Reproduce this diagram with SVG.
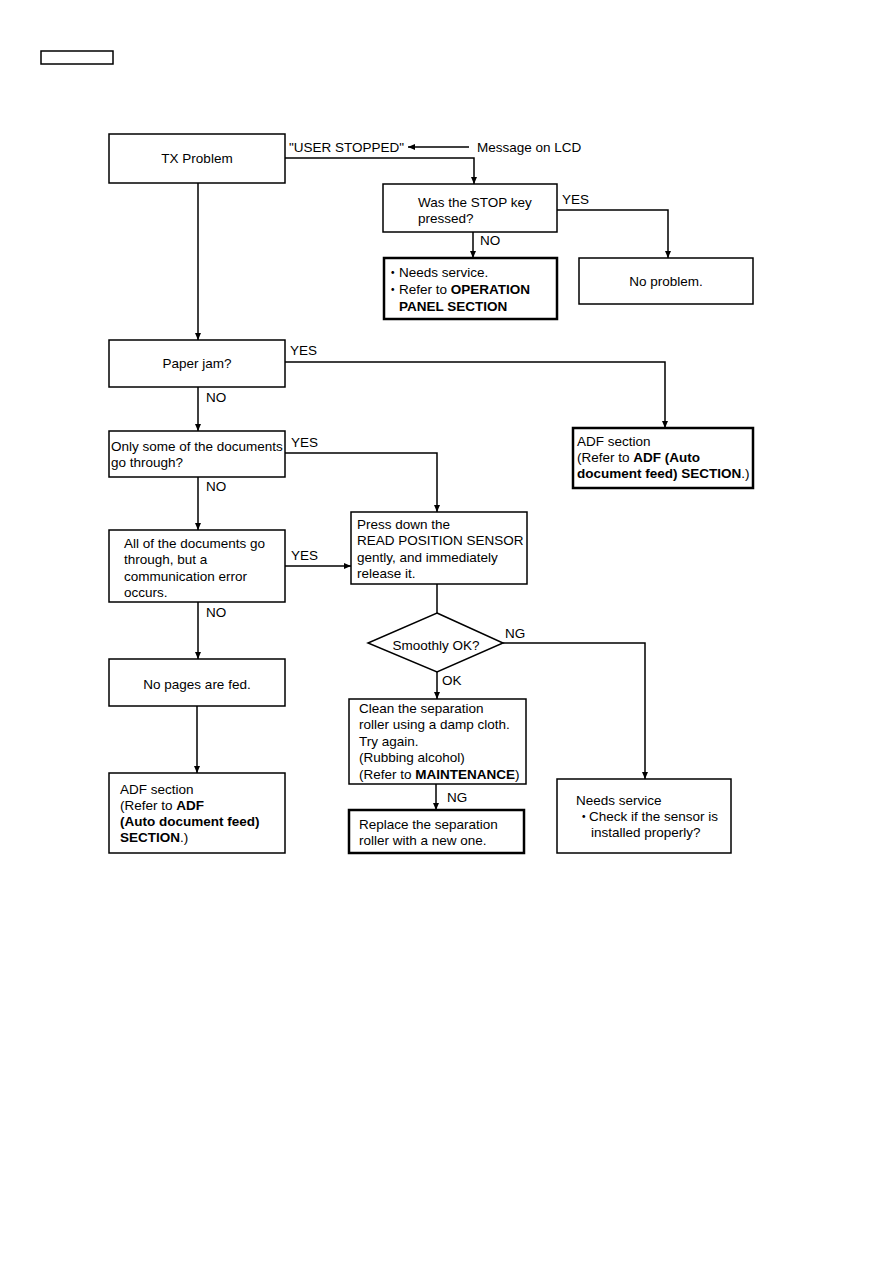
<svg xmlns="http://www.w3.org/2000/svg" width="893" height="1263" viewBox="0 0 893 1263">
<style>
.n{fill:#fff;stroke:#000;stroke-width:1.5}
.b{fill:#fff;stroke:#000;stroke-width:2.5}
.c{fill:none;stroke:#000;stroke-width:1.5}
text{font-family:"Liberation Sans",Arial,"Noto Sans CJK JP",sans-serif;font-size:13.5px;fill:#000}
.m{text-anchor:middle}
.bd{font-weight:bold}
</style>
<defs>
<marker id="ah" markerUnits="userSpaceOnUse" markerWidth="8" markerHeight="7" refX="7" refY="3" orient="auto">
<path d="M0,0 L7,3 L0,6 z" fill="#000"/>
</marker>
</defs>
<rect x="41" y="51" width="72" height="13" fill="#fff" stroke="#000" stroke-width="1.5"/>
<g id="connectors">
<path class="c" d="M469,147 H408" marker-end="url(#ah)"/>
<path class="c" d="M285,158 H474 V184" marker-end="url(#ah)"/>
<path class="c" d="M473,232 V258" marker-end="url(#ah)"/>
<path class="c" d="M557,210 H668 V258" marker-end="url(#ah)"/>
<path class="c" d="M198,183 V340" marker-end="url(#ah)"/>
<path class="c" d="M285,362 H665 V428" marker-end="url(#ah)"/>
<path class="c" d="M198,387 V431" marker-end="url(#ah)"/>
<path class="c" d="M285,453 H437 V512" marker-end="url(#ah)"/>
<path class="c" d="M198,477 V530" marker-end="url(#ah)"/>
<path class="c" d="M285,566 H351" marker-end="url(#ah)"/>
<path class="c" d="M198,602 V659" marker-end="url(#ah)"/>
<path class="c" d="M437,584 V613"/>
<path class="c" d="M503,643 H645 V779" marker-end="url(#ah)"/>
<path class="c" d="M437,672 V699" marker-end="url(#ah)"/>
<path class="c" d="M197,706 V773" marker-end="url(#ah)"/>
<path class="c" d="M436,784 V810" marker-end="url(#ah)"/>
</g>
<g id="labels">
<text x="289" y="152">"USER STOPPED"</text>
<text x="477" y="152">Message on LCD</text>
<text x="562" y="204">YES</text>
<text x="480" y="245">NO</text>
<text x="290" y="355">YES</text>
<text x="206" y="402">NO</text>
<text x="291" y="447">YES</text>
<text x="206" y="491">NO</text>
<text x="291" y="560">YES</text>
<text x="206" y="617">NO</text>
<text x="505" y="638">NG</text>
<text x="442" y="685">OK</text>
<text x="447" y="802">NG</text>
</g>
<g id="tx"><rect class="n" x="109" y="134" width="176" height="49"/><text class="m" x="197" y="163">TX Problem</text></g>
<g id="stopkey"><rect class="n" x="383" y="184" width="174" height="48"/><text x="418" y="207">Was the STOP key</text><text x="418" y="223">pressed?</text></g>
<g id="needservice1"><rect class="b" x="384" y="258" width="173" height="61"/>
<text y="277"><tspan x="386">・</tspan><tspan x="399">Needs service.</tspan></text>
<text y="294"><tspan x="386">・</tspan><tspan x="399">Refer to </tspan><tspan class="bd">OPERATION</tspan></text>
<text class="bd" x="399" y="311">PANEL SECTION</text></g>
<g id="noproblem"><rect class="n" x="579" y="258" width="174" height="46"/><text class="m" x="666" y="286">No problem.</text></g>
<g id="paperjam"><rect class="n" x="109" y="340" width="176" height="47"/><text class="m" x="197" y="368">Paper jam?</text></g>
<g id="adf1"><rect class="b" x="573" y="428" width="180" height="60"/>
<text x="577" y="446">ADF section</text>
<text x="577" y="462">(Refer to <tspan class="bd">ADF (Auto</tspan></text>
<text x="577" y="478"><tspan class="bd">document feed) SECTION</tspan>.)</text></g>
<g id="onlysome"><rect class="n" x="109" y="431" width="176" height="46"/><text x="111" y="451">Only some of the documents</text><text x="111" y="467">go through?</text></g>
<g id="allgo"><rect class="n" x="109" y="530" width="176" height="72"/>
<text x="124" y="548">All of the documents go</text><text x="124" y="564">through, but a</text><text x="124" y="581">communication error</text><text x="124" y="597">occurs.</text></g>
<g id="press"><rect class="n" x="351" y="512" width="176" height="72"/>
<text x="357" y="529">Press down the</text><text x="357" y="545">READ POSITION SENSOR</text><text x="357" y="562">gently, and immediately</text><text x="357" y="578">release it.</text></g>
<g id="nopages"><rect class="n" x="109" y="659" width="176" height="47"/><text class="m" x="197" y="689">No pages are fed.</text></g>
<g id="smoothly"><path class="n" d="M437,613 L503,643 L437,672 L368,643 z"/><text class="m" x="436" y="650">Smoothly OK?</text></g>
<g id="clean"><rect class="n" x="349" y="699" width="177" height="85"/>
<text x="359" y="713">Clean the separation</text><text x="359" y="729">roller using a damp cloth.</text><text x="359" y="746">Try again.</text><text x="359" y="762">(Rubbing alcohol)</text><text x="359" y="779">(Refer to <tspan class="bd">MAINTENANCE</tspan>)</text></g>
<g id="adf2"><rect class="n" x="109" y="773" width="176" height="80"/>
<text x="120" y="794">ADF section</text><text x="120" y="810">(Refer to <tspan class="bd">ADF</tspan></text><text class="bd" x="120" y="826">(Auto document feed)</text><text x="120" y="842"><tspan class="bd">SECTION</tspan>.)</text></g>
<g id="replace"><rect class="b" x="349" y="810" width="175" height="43"/><text x="359" y="829">Replace the separation</text><text x="359" y="845">roller with a new one.</text></g>
<g id="needservice2"><rect class="n" x="557" y="779" width="174" height="74"/>
<text x="576" y="805">Needs service</text>
<text y="821"><tspan x="577">・</tspan><tspan x="589">Check if the sensor is</tspan></text>
<text x="591" y="837">installed properly?</text></g>
</svg>
